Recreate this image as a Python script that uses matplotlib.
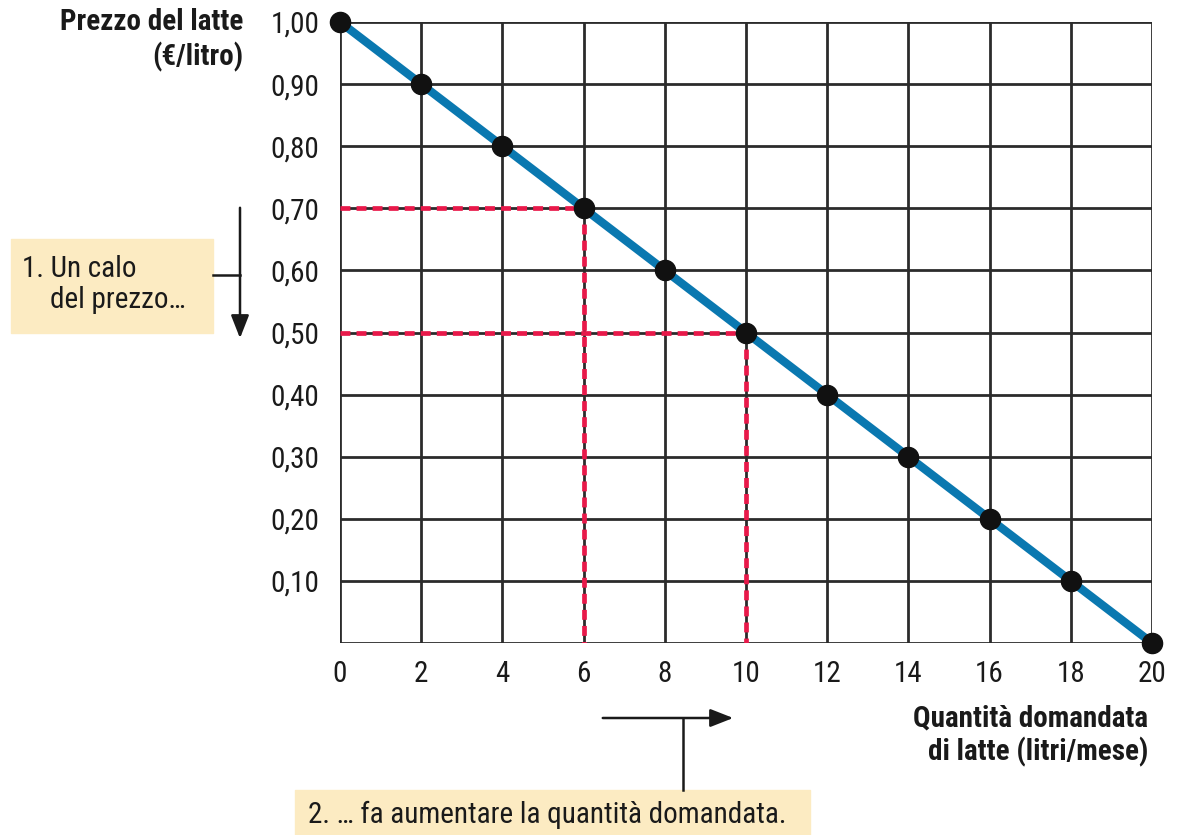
import matplotlib.pyplot as plt
from matplotlib.patches import Rectangle, FancyArrowPatch
import matplotlib.font_manager as fm

# Dati della curva di domanda
quantita = [0, 2, 4, 6, 8, 10, 12, 14, 16, 18, 20]
prezzo = [1.00, 0.90, 0.80, 0.70, 0.60, 0.50, 0.40, 0.30, 0.20, 0.10, 0.00]
x_ticks = [0, 2, 4, 6, 8, 10, 12, 14, 16, 18, 20]
y_ticks = [0.10, 0.20, 0.30, 0.40, 0.50, 0.60, 0.70, 0.80, 0.90, 1.00]
y_labels = ["0,10", "0,20", "0,30", "0,40", "0,50", "0,60", "0,70", "0,80", "0,90", "1,00"]
# punti evidenziati (prima e dopo il calo di prezzo)
punti_q = [6, 10]
punti_p = [0.70, 0.50]

# font stretto se c'è, altrimenti Liberation Sans
names = {f.name for f in fm.fontManager.ttflist}
fam = "Liberation Sans"
for cand in ["Liberation Sans Narrow", "Roboto Condensed", "Open Sans Condensed"]:
    if cand in names:
        fam = cand
        break
plt.rcParams["font.family"] = [fam, "DejaVu Sans"]

W, H = 1177, 835
fig = plt.figure(figsize=(W / 100, H / 100), dpi=100)
ax = fig.add_axes([340 / W, 1 - 643 / H, 812 / W, 621 / H])
ax.set_xlim(0, 20)
ax.set_ylim(0, 1.0)

grid_col = "#2b2b2b"
for x in x_ticks:
    ax.axvline(x, color=grid_col, lw=2, zorder=1)
for y in [0] + y_ticks:
    ax.axhline(y, color=grid_col, lw=2, zorder=1)
for s in ax.spines.values():
    s.set_visible(False)

# linee tratteggiate rosse
red = "#e8194a"
for q, p in zip(punti_q, punti_p):
    ax.plot([0, q], [p, p], color=red, lw=3.4, ls=(0, (2.1, 1.3)), zorder=2)
    ax.plot([q, q], [p, 0], color=red, lw=3.4, ls=(0, (2.1, 1.3)), zorder=2)

ax.plot(quantita, prezzo, color="#0a78b0", lw=6, zorder=3, solid_capstyle="butt")
ax.plot(quantita, prezzo, "o", color="#111111", ms=14.5, zorder=4, clip_on=False)

ax.set_xticks(x_ticks)
ax.set_xticklabels([str(v) for v in x_ticks])
ax.set_yticks(y_ticks)
ax.set_yticklabels(y_labels)
ax.tick_params(length=0, labelsize=21, colors="#1a1a1a")
ax.tick_params(axis="x", pad=12)
ax.tick_params(axis="y", pad=15)

def px_text(x, y, s, **kw):
    fig.text(x / W, 1 - y / H, s, color="#1a1a1a", **kw)

# titoli degli assi
px_text(243, 22, "Prezzo del latte", ha="right", va="center", fontsize=21, fontweight="bold")
px_text(243, 57, "(€/litro)", ha="right", va="center", fontsize=21, fontweight="bold")
px_text(1148, 718, "Quantità domandata", ha="right", va="center", fontsize=21, fontweight="bold")
px_text(1148, 752, "di latte (litri/mese)", ha="right", va="center", fontsize=21, fontweight="bold")

# riquadri esplicativi
box_col = "#fcebc2"
fig.patches.append(Rectangle((11 / W, 1 - 333 / H), 202 / W, 94 / H,
                             transform=fig.transFigure, color=box_col, zorder=0))
px_text(22, 269, "1. Un calo", ha="left", va="center", fontsize=21)
px_text(50, 300, "del prezzo…", ha="left", va="center", fontsize=21)
fig.patches.append(Rectangle((295 / W, 0), 515 / W, 45 / H,
                             transform=fig.transFigure, color=box_col, zorder=0))
px_text(308, 815, "2. … fa aumentare la quantità domandata.", ha="left", va="center", fontsize=21)

# frecce
line_kw = dict(transform=fig.transFigure, color="#1a1a1a", lw=1.8)
arrow_kw = dict(transform=fig.transFigure, arrowstyle="-|>,head_length=14,head_width=5.5",
                color="#1a1a1a", lw=1.8, mutation_scale=1)
fig.add_artist(plt.Line2D([213 / W, 240 / W], [1 - 275 / H] * 2, **line_kw))
fig.add_artist(FancyArrowPatch((240 / W, 1 - 205 / H), (240 / W, 1 - 341 / H), **arrow_kw))
fig.add_artist(plt.Line2D([683 / W] * 2, [1 - 718 / H, 1 - 790 / H], **line_kw))
fig.add_artist(FancyArrowPatch((600 / W, 1 - 718 / H), (736 / W, 1 - 718 / H), **arrow_kw))

fig.savefig("out.png", dpi=100)
